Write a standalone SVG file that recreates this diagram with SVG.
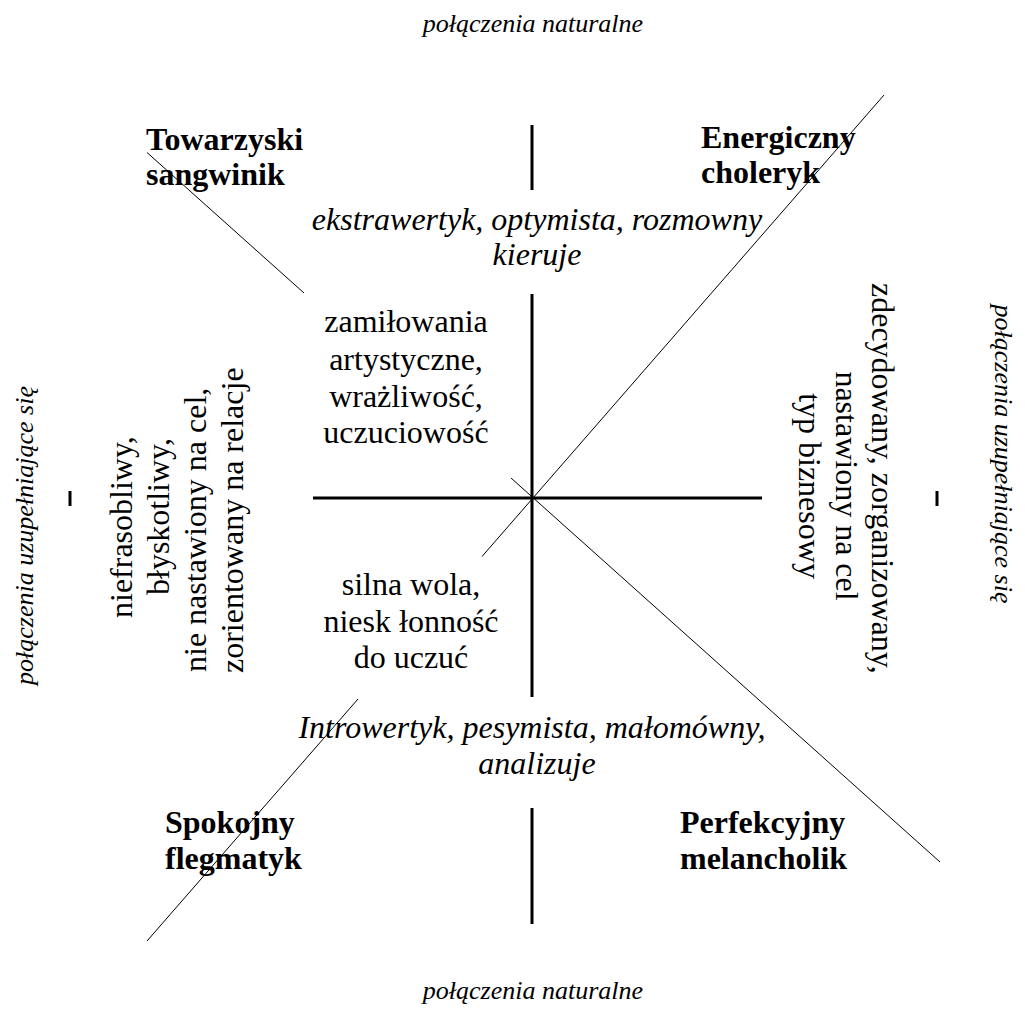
<svg xmlns="http://www.w3.org/2000/svg" width="1025" height="1019" viewBox="0 0 1025 1019">
<style>
.t{font-size:32px;font-weight:bold}
.r{font-size:32px}
.i{font-size:32px;font-style:italic}
.s{font-size:26px;font-style:italic}
.c{text-anchor:middle}
.thick{stroke:#000;stroke-width:3;fill:none}
.thin{stroke:#000;stroke-width:1;fill:none}
</style>
<rect width="1025" height="1019" fill="#fff"/>
<g id="connectors">
<line class="thick" x1="313" y1="498" x2="762" y2="498"/>
<line class="thick" x1="532" y1="294" x2="532" y2="697"/>
<line class="thick" x1="532" y1="125" x2="532" y2="190"/>
<line class="thick" x1="532" y1="808" x2="532" y2="924"/>
<line class="thick" x1="70" y1="491" x2="70" y2="506"/>
<line class="thick" x1="937" y1="491" x2="937" y2="506"/>
<line class="thin" x1="147" y1="152.5" x2="304" y2="293"/>
<line class="thin" x1="511" y1="478" x2="940" y2="862"/>
<line class="thin" x1="147" y1="941" x2="358" y2="699"/>
<line class="thin" x1="482" y1="556.5" x2="884" y2="95"/>
</g>
<g font-family="Liberation Serif, Times New Roman, serif" fill="#000">
<g id="label-top"><text class="s c" x="533" y="32">połączenia naturalne</text></g>
<g id="label-bottom"><text class="s c" x="533" y="999">połączenia naturalne</text></g>
<g id="label-left"><text class="s c" transform="translate(33 535.5) rotate(-90)">połączenia uzupełniające się</text></g>
<g id="label-right"><text class="s c" transform="translate(995 454) rotate(90)">połączenia uzupełniające się</text></g>
<g id="sangwinik">
<text class="t" x="146" y="150">Towarzyski</text>
<text class="t" x="146" y="185">sangwinik</text>
</g>
<g id="choleryk">
<text class="t" x="701" y="148">Energiczny</text>
<text class="t" x="701" y="183">choleryk</text>
</g>
<g id="flegmatyk">
<text class="t" x="165" y="833">Spokojny</text>
<text class="t" x="165" y="869">flegmatyk</text>
</g>
<g id="melancholik">
<text class="t" x="680" y="833">Perfekcyjny</text>
<text class="t" x="680" y="869">melancholik</text>
</g>
<g id="ekstrawertyk">
<text class="i c" x="537" y="230">ekstrawertyk, optymista, rozmowny</text>
<text class="i c" x="537" y="265">kieruje</text>
</g>
<g id="introwertyk">
<text class="i c" x="532" y="738">Introwertyk, pesymista, małomówny,</text>
<text class="i c" x="537" y="774">analizuje</text>
</g>
<g id="zamilowania">
<text class="r c" x="406" y="332">zamiłowania</text>
<text class="r c" x="406" y="370">artystyczne,</text>
<text class="r c" x="406" y="407">wrażliwość,</text>
<text class="r c" x="406" y="443">uczuciowość</text>
</g>
<g id="silna-wola">
<text class="r c" x="411" y="595">silna wola,</text>
<text class="r c" x="411" y="632">niesk łonność</text>
<text class="r c" x="411" y="668">do uczuć</text>
</g>
<g id="left-traits">
<text class="r" transform="translate(132 618) rotate(-90)">niefrasobliwy,</text>
<text class="r" transform="translate(169 595) rotate(-90)">błyskotliwy,</text>
<text class="r" transform="translate(206 672) rotate(-90)">nie nastawiony na cel,</text>
<text class="r" transform="translate(243 673) rotate(-90)">zorientowany na relacje</text>
</g>
<g id="right-traits">
<text class="r" transform="translate(872 283) rotate(90)">zdecydowany, zorganizowany,</text>
<text class="r c" transform="translate(836 486) rotate(90)">nastawiony na cel</text>
<text class="r c" transform="translate(799 486) rotate(90)">typ biznesowy</text>
</g>
</g>
</svg>
